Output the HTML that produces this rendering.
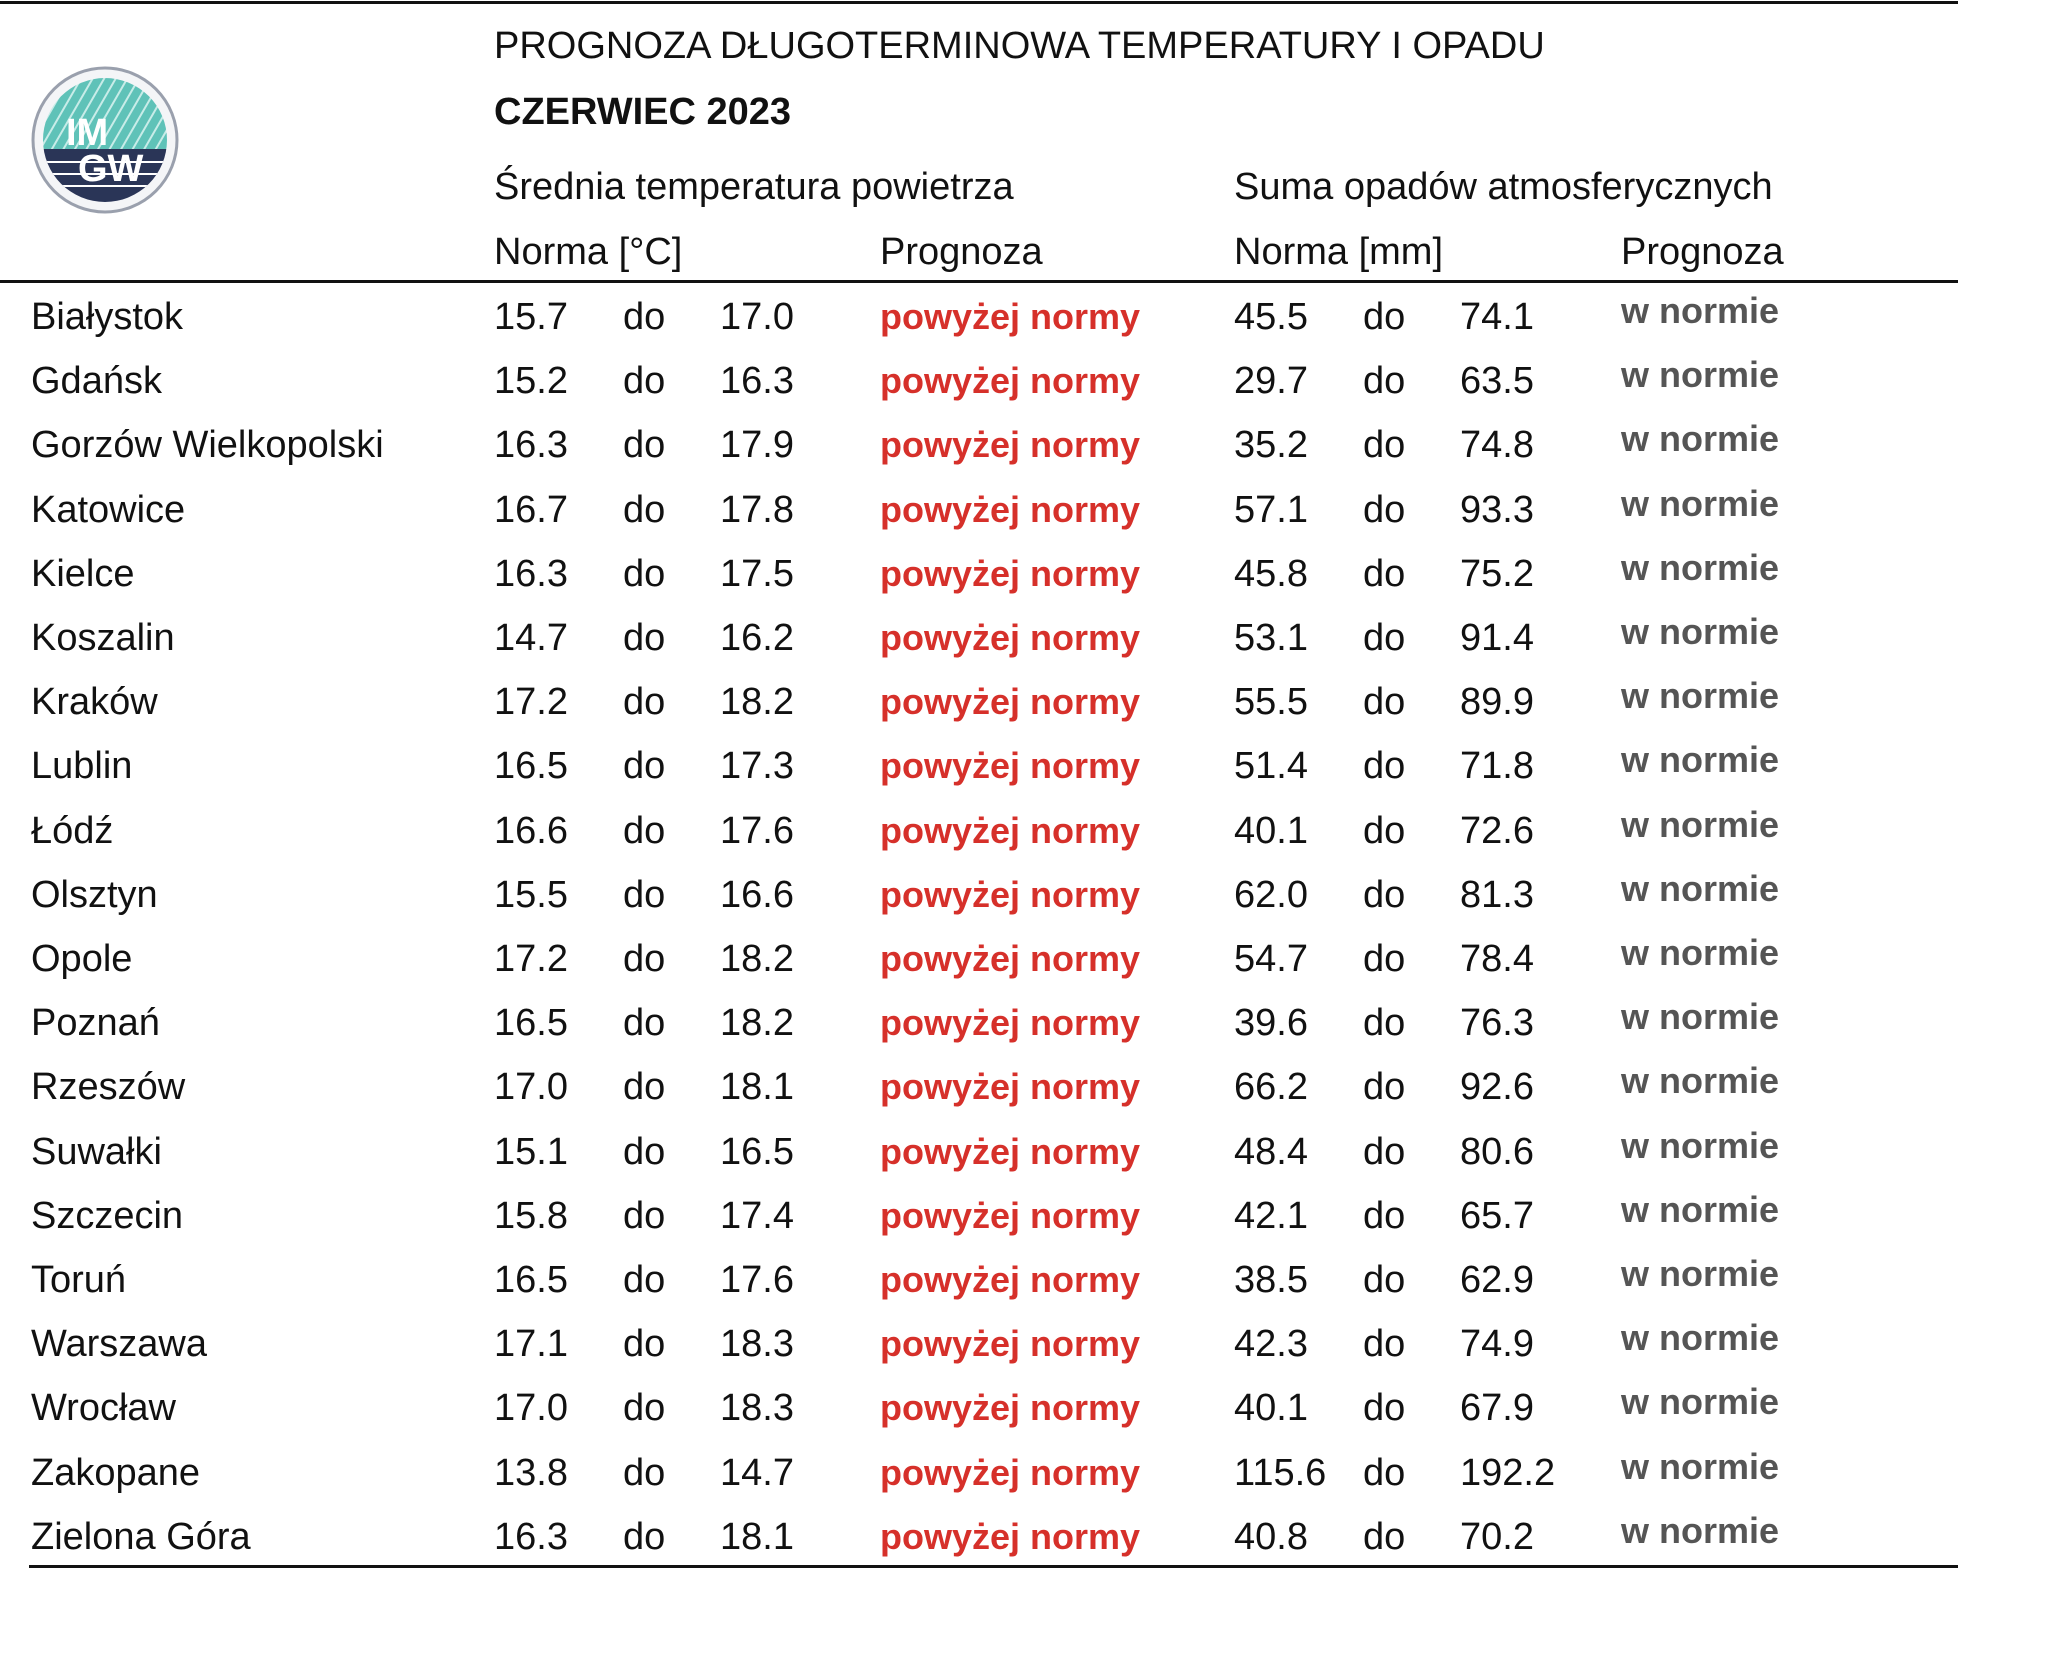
<!DOCTYPE html>
<html><head><meta charset="utf-8"><style>
body{margin:0;width:2048px;height:1667px;background:#fff;position:relative;overflow:hidden;font-family:"Liberation Sans",sans-serif;color:#111}
.t{position:absolute;font-size:38px;line-height:40px;white-space:nowrap}
.h{position:absolute;height:3px;background:#111}
.r{color:#d6302a;font-weight:bold;font-size:36px}
.g{color:#555;font-weight:bold;font-size:36px}
</style></head><body>
<div class="h" style="left:0;top:1px;width:1958px"></div>
<div class="h" style="left:0;top:280px;width:1958px"></div>
<div class="h" style="left:29px;top:1565px;width:1929px"></div>
<svg style="position:absolute;left:30px;top:65px" width="150" height="150" viewBox="0 0 150 150">
<defs><clipPath id="c"><circle cx="75" cy="75" r="62"/></clipPath>
<pattern id="p" width="10" height="10" patternUnits="userSpaceOnUse" patternTransform="rotate(30)"><rect width="10" height="10" fill="#5fc2b8"/><rect width="2" height="10" fill="#c8ece8"/></pattern></defs>
<circle cx="75" cy="75" r="72" fill="#f4f5f7" stroke="#9aa0ad" stroke-width="3"/>
<g clip-path="url(#c)"><rect x="0" y="0" width="150" height="84" fill="url(#p)"/><rect x="0" y="84" width="150" height="70" fill="#2a3557"/>
<rect x="0" y="96" width="150" height="2" fill="#fff"/><rect x="0" y="108" width="150" height="2" fill="#fff"/><rect x="0" y="120" width="150" height="2" fill="#fff"/></g>
<text x="36" y="80" font-family="Liberation Sans" font-weight="bold" font-size="38" fill="#fff">IM</text>
<text x="48" y="116" font-family="Liberation Sans" font-weight="bold" font-size="38" fill="#fff">GW</text>
</svg>
<div class="t" style="left:494px;top:26px;font-size:38px">PROGNOZA DŁUGOTERMINOWA TEMPERATURY I OPADU</div>
<div class="t" style="left:494px;top:92px;font-weight:bold">CZERWIEC 2023</div>
<div class="t" style="left:494px;top:167px">Średnia temperatura powietrza</div>
<div class="t" style="left:1234px;top:167px">Suma opadów atmosferycznych</div>
<div class="t" style="left:494px;top:232px">Norma [°C]</div>
<div class="t" style="left:880px;top:232px">Prognoza</div>
<div class="t" style="left:1234px;top:232px">Norma [mm]</div>
<div class="t" style="left:1621px;top:232px">Prognoza</div>
<div id="rows"></div>
<script>
var d=[["Białystok","15.7","17.0","45.5","74.1"],["Gdańsk","15.2","16.3","29.7","63.5"],["Gorzów Wielkopolski","16.3","17.9","35.2","74.8"],["Katowice","16.7","17.8","57.1","93.3"],["Kielce","16.3","17.5","45.8","75.2"],["Koszalin","14.7","16.2","53.1","91.4"],["Kraków","17.2","18.2","55.5","89.9"],["Lublin","16.5","17.3","51.4","71.8"],["Łódź","16.6","17.6","40.1","72.6"],["Olsztyn","15.5","16.6","62.0","81.3"],["Opole","17.2","18.2","54.7","78.4"],["Poznań","16.5","18.2","39.6","76.3"],["Rzeszów","17.0","18.1","66.2","92.6"],["Suwałki","15.1","16.5","48.4","80.6"],["Szczecin","15.8","17.4","42.1","65.7"],["Toruń","16.5","17.6","38.5","62.9"],["Warszawa","17.1","18.3","42.3","74.9"],["Wrocław","17.0","18.3","40.1","67.9"],["Zakopane","13.8","14.7","115.6","192.2"],["Zielona Góra","16.3","18.1","40.8","70.2"]];
var h="";
d.forEach(function(r,i){var y=297+i*64.2;
function c(x,t,cl,dy){h+='<div class="t '+(cl||'')+'" style="left:'+x+'px;top:'+(y+(dy||0))+'px">'+t+'</div>';}
c(31,r[0]);c(494,r[1]);c(623,"do");c(720,r[2]);c(880,"powyżej normy","r");
c(1234,r[3]);c(1363,"do");c(1460,r[4]);c(1621,"w normie","g",-6);});
document.getElementById("rows").innerHTML=h;
</script>
</body></html>
